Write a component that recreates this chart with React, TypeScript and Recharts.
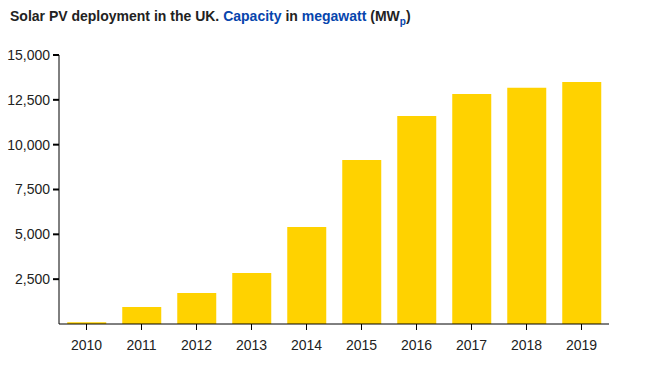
import { BarChart, Bar, XAxis, YAxis } from 'recharts';

// UK solar PV installed capacity, MWp
const years = ['2010', '2011', '2012', '2013', '2014', '2015', '2016', '2017', '2018', '2019'];
const capacity = [100, 950, 1730, 2850, 5410, 9150, 11600, 12830, 13170, 13500];
const yTicks = [2500, 5000, 7500, 10000, 12500, 15000];

const data = years.map((year, i) => ({ year, capacity: capacity[i] }));

const tickStyle = { fontSize: 14, fill: '#222', fontFamily: 'Liberation Sans, Arial, sans-serif' };
const linkColor = '#0645ad';

export default function App() {
  return (
    <div style={{ position: 'absolute', left: 0, top: 0, width: 649, height: 365, background: '#fff' }}>
      <div
        style={{
          position: 'absolute',
          left: 10,
          top: 8,
          fontFamily: 'Liberation Sans, Arial, sans-serif',
          fontWeight: 'bold',
          fontSize: 14,
          color: '#222',
          whiteSpace: 'nowrap',
        }}
      >
        Solar PV deployment in the UK. <span style={{ color: linkColor }}>Capacity</span> in{' '}
        <span style={{ color: linkColor }}>megawatt</span> (MW<sub style={{ color: linkColor, fontSize: 10 }}>p</sub>)
      </div>
      <BarChart
        width={649}
        height={365}
        data={data}
        margin={{ top: 55, right: 40, left: 0, bottom: 11 }}
        barCategoryGap="15%"
      >
        <XAxis
          dataKey="year"
          tick={tickStyle}
          tickLine={{ stroke: '#000' }}
          axisLine={{ stroke: '#000' }}
          tickSize={6}
          tickMargin={10}
        />
        <YAxis
          width={59}
          domain={[0, 15000]}
          ticks={yTicks}
          tick={tickStyle}
          tickLine={{ stroke: '#000', strokeWidth: 2 }}
          axisLine={{ stroke: '#000' }}
          tickSize={6}
          tickMargin={3}
          tickFormatter={(v: number) => v.toLocaleString('en-US')}
        />
        <Bar dataKey="capacity" fill="#ffd200" isAnimationActive={false} />
      </BarChart>
    </div>
  );
}
